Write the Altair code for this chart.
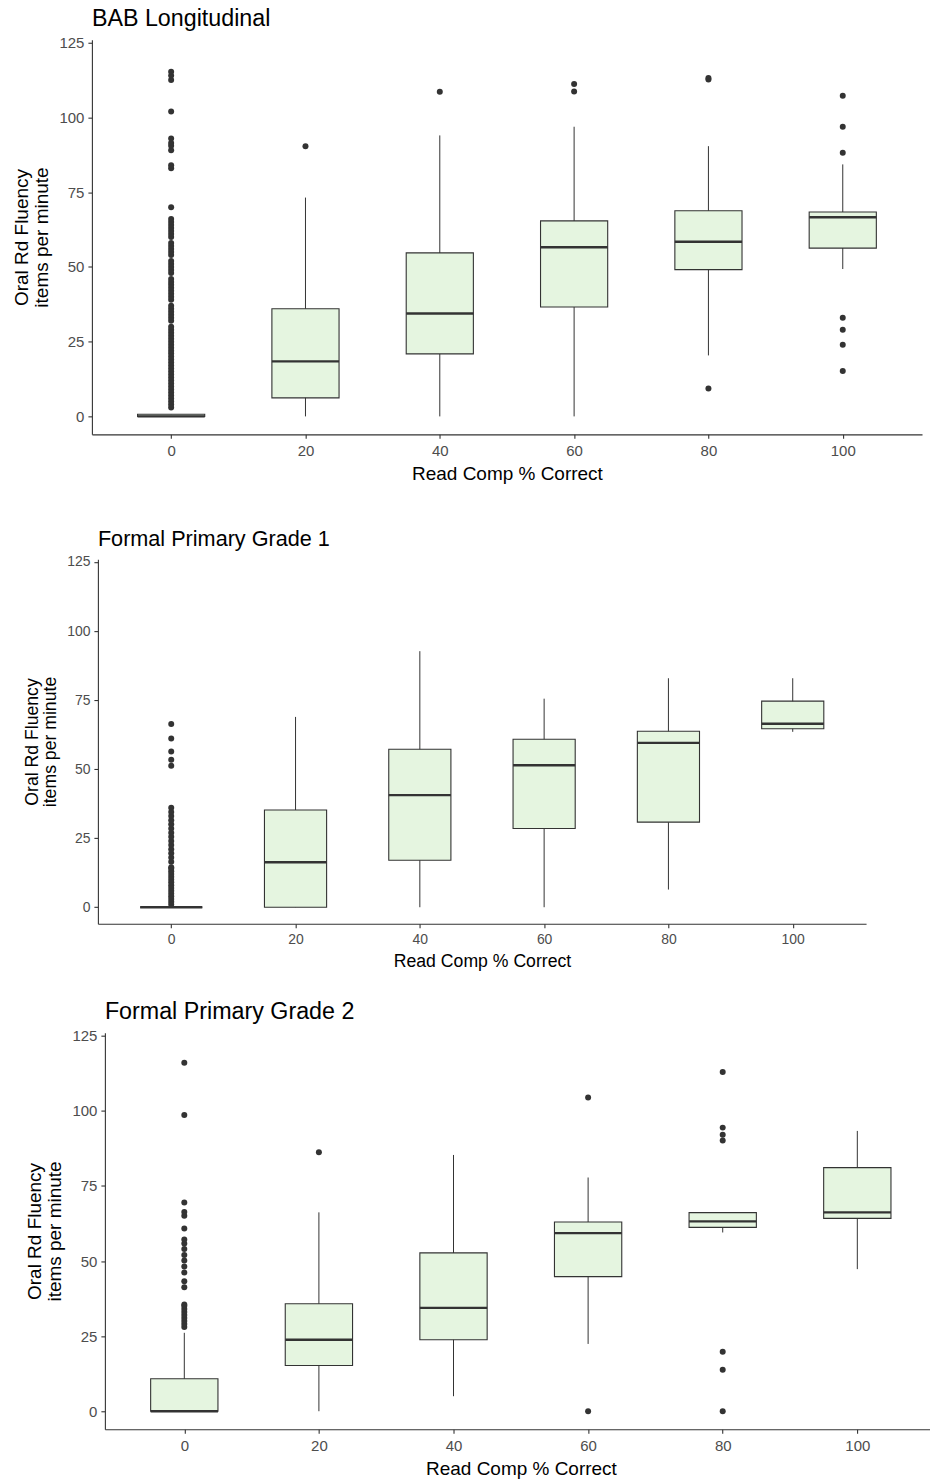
import altair as alt
import pandas as pd

# Read-comprehension score buckets (% correct) shared by all three panels
CATS = [0, 20, 40, 60, 80, 100]

# --- BAB Longitudinal: five-number summaries per bucket ---
bab_lo = [0, 0, 0, 0, 20.4, 49.3]
bab_q1 = [0, 6.2, 20.9, 36.6, 49.1, 56.3]
bab_med = [0, 18.4, 34.4, 56.6, 58.4, 66.6]
bab_q3 = [0.7, 36.0, 54.7, 65.4, 68.8, 68.4]
bab_hi = [0.7, 73.2, 94.0, 96.9, 90.4, 84.3]
bab_out = [
    [3, 4, 5, 6, 7, 8, 9, 10, 11, 12, 13, 14, 15, 16, 17, 18, 19, 20, 21, 22,
     23, 24, 25, 26, 27, 28, 29, 30, 32, 33, 34, 35, 36, 37, 39, 40, 41, 42,
     43, 44, 45, 46, 48, 49, 50, 51, 52, 54, 55, 56, 57, 58, 60, 61, 62, 63,
     64, 65, 66, 70, 83, 84, 89, 90.5, 91.5, 93, 102, 112.5, 114, 115.3],
    [90.4],
    [108.6],
    [108.7, 111.2],
    [9.3, 112.7, 113.2],
    [15.2, 24, 29, 33, 88.2, 96.9, 107.3],
]

# --- Formal Primary Grade 1 ---
g1_lo = [0, 0, 0, 0, 6.4, 63.5]
g1_q1 = [0, 0, 17.0, 28.5, 30.8, 64.6]
g1_med = [0, 16.3, 40.6, 51.4, 59.5, 66.4]
g1_q3 = [0, 35.2, 57.2, 60.8, 63.7, 74.6]
g1_hi = [0, 68.9, 92.7, 75.5, 82.9, 82.9]
g1_out = [
    [1, 2, 3, 4, 5, 6, 7, 8, 9, 10, 11, 12, 13, 14, 14.5, 16.5, 18, 19.5,
     21, 22.5, 24, 25.5, 27, 28.5, 30, 31.5, 33, 34.5, 36, 51.2, 53.4, 56.4,
     61.1, 66.3],
    [], [], [], [], [],
]

# --- Formal Primary Grade 2 ---
g2_lo = [0, 0, 5.0, 22.4, 59.5, 47.3]
g2_q1 = [0, 15.2, 23.8, 44.8, 61.2, 64.2]
g2_med = [0, 23.8, 34.4, 59.3, 63.2, 66.2]
g2_q3 = [10.8, 35.8, 52.7, 63.0, 66.1, 81.1]
g2_hi = [26.1, 66.2, 85.3, 77.8, 66.1, 93.3]
g2_out = [
    [28, 29, 30, 31, 32, 33, 34, 35, 35.5, 41.3, 43.3, 46.2, 48.2, 50.2, 52,
     54, 55.8, 57.2, 60.8, 65.1, 66.3, 69.5, 98.6, 116],
    [86.2],
    [],
    [0, 104.4],
    [0, 13.8, 19.8, 90.1, 92, 94.4, 112.9],
    [],
]

Y_TICKS = [0, 25, 50, 75, 100, 125]
FONT = "Liberation Sans"
INK = "#333333"
FILL = "#E5F5E0"
HALF_BOX = 5  # half of the box width, in x units


def panel(title, lo, q1, med, q3, hi, outs, width, height, k,
          inset, x_max, x_span, margin=None):
    """One box-plot panel; `inset` pushes the data rectangle right of the
    shared left edge, `x_span` is the full length of the x axis in pixels,
    `margin` (left, below) reserves outer space with an invisible guide."""
    stats = pd.DataFrame({"cat": CATS, "lo": lo, "q1": q1, "med": med,
                          "q3": q3, "hi": hi})
    stats["left"] = stats["cat"] - HALF_BOX
    stats["right"] = stats["cat"] + HALF_BOX
    pts = pd.DataFrame([{"cat": c, "val": v} for c, vs in zip(CATS, outs) for v in vs])

    xs = alt.Scale(domain=[-11.8, x_max], nice=False, zero=False,
                   range=[inset, width])
    ys = alt.Scale(domain=[-6, 126], nice=False, zero=False)
    xa = alt.Axis(values=CATS, title="Read Comp % Correct", grid=False,
                  labelFontSize=15 * k, titleFontSize=19 * k, labelPadding=5,
                  titlePadding=6, titleX=inset + x_span / 2)
    ya = alt.Axis(values=Y_TICKS, title=["Oral Rd Fluency", "items per minute"],
                  grid=False, labelFontSize=15 * k, titleFontSize=19 * k,
                  titleLineHeight=20 * k, labelPadding=4, titlePadding=7,
                  offset=-inset)

    base = alt.Chart(stats)
    whisk = base.mark_rule(color=INK, strokeWidth=1).encode(
        x=alt.X("cat:Q", scale=xs, axis=xa),
        y=alt.Y("lo:Q", scale=ys, axis=ya),
        y2="hi:Q",
    )
    box = base.mark_rect(fill=FILL, stroke=INK, strokeWidth=1.1).encode(
        x="left:Q", x2="right:Q", y="q1:Q", y2="q3:Q"
    )
    mid = base.mark_rule(color=INK, strokeWidth=2.4).encode(
        x="left:Q", x2="right:Q", y="med:Q"
    )
    dots = alt.Chart(pts).mark_circle(size=36, color=INK, opacity=1).encode(
        x="cat:Q", y="val:Q"
    )
    layers = [whisk, box, mid, dots]
    if margin is not None:
        left, below = margin
        guide = alt.Chart(stats).mark_rule(color="white", strokeWidth=1).encode(
            x=alt.value(-left), y=alt.value(0), y2=alt.value(height + below)
        )
        layers = [guide] + layers
    return alt.layer(*layers).properties(
        width=width, height=height,
        title=alt.TitleParams(title, anchor="start", frame="group", dx=inset,
                              fontSize=23.3 * k, font=FONT, fontWeight="normal",
                              color="black", offset=4),
    )


p1 = panel("BAB Longitudinal", bab_lo, bab_q1, bab_med, bab_q3, bab_hi, bab_out,
           831, 395, 1.0, 0, 111.8, 831, margin=(91, 65))
p2 = panel("Formal Primary Grade 1", g1_lo, g1_q1, g1_med, g1_q3, g1_hi, g1_out,
           775, 365, 0.93, 6, 111.8, 769)
p3 = panel("Formal Primary Grade 2", g2_lo, g2_q1, g2_med, g2_q3, g2_hi, g2_out,
           839, 397, 1.0, 13, 110.8, 833)

chart = alt.concat(p1, p2, p3, columns=1, spacing=29).properties(
    padding={"left": 0, "top": 6, "right": 0, "bottom": 0},
    background="white",
).configure_view(stroke=None).configure_axis(
    domainColor=INK, domainWidth=1.1, tickColor=INK, tickWidth=1.1, tickSize=4,
    labelColor="#4D4D4D", labelFont=FONT, titleFont=FONT,
    titleFontWeight="normal", titleColor="black",
)

chart.save("out.html", embed_options={"renderer": "svg", "actions": False})
